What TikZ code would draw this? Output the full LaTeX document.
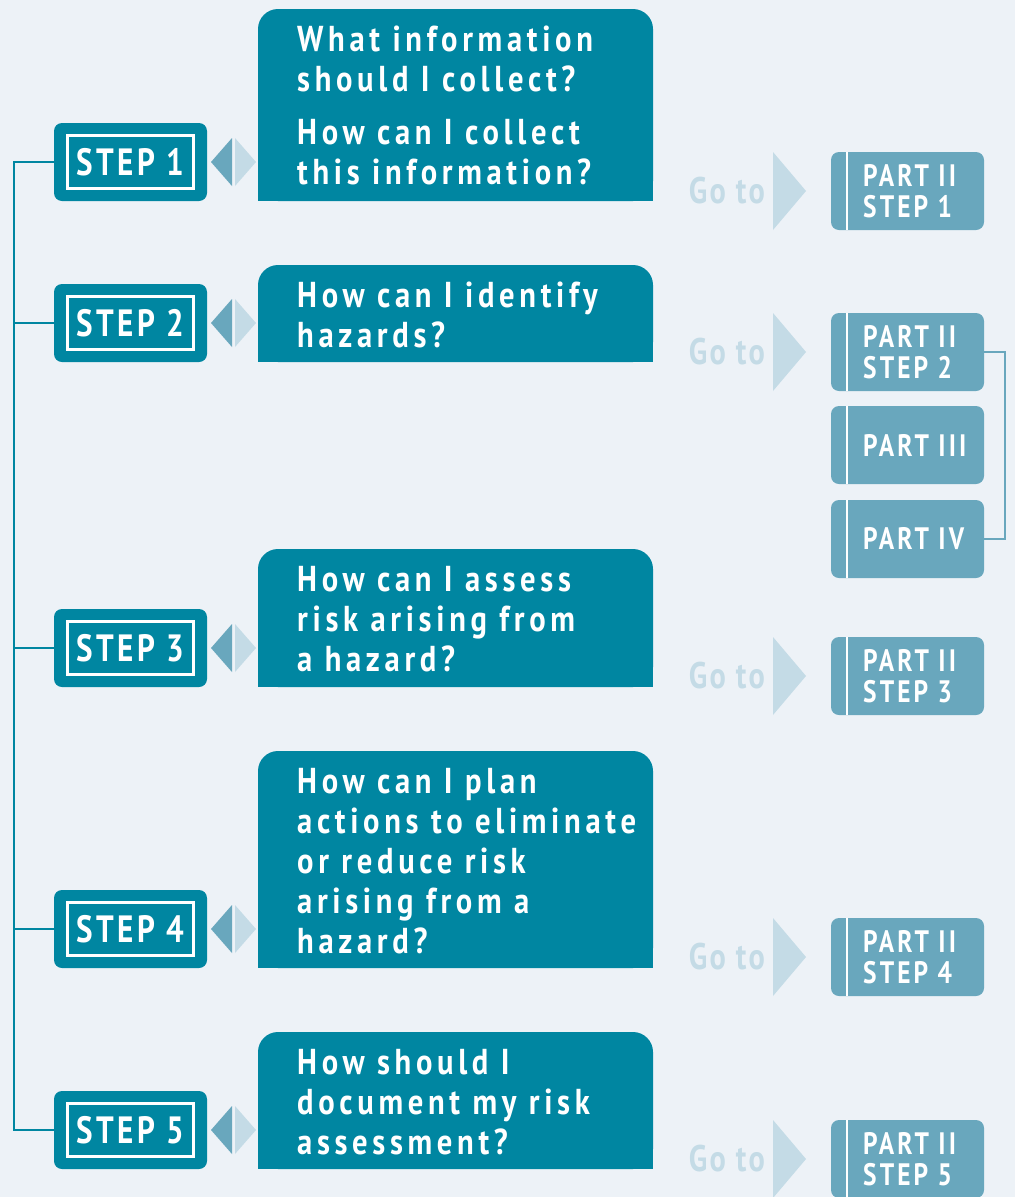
\documentclass[tikz,border=0pt]{standalone}
\usepackage{fontspec}
\setmainfont{PT Sans}
\newfontfamily\cfq[FakeStretch=0.85,LetterSpace=13]{PT Sans}
\newfontfamily\cfs[FakeStretch=0.82,LetterSpace=9]{PT Sans}
\newfontfamily\cfp[FakeStretch=0.82,LetterSpace=10]{PT Sans}
\newfontfamily\cfg[FakeStretch=0.82,LetterSpace=6]{PT Sans}
\usetikzlibrary{calc}
\definecolor{bgc}{HTML}{EDF2F7}
\definecolor{tealc}{HTML}{0086A1}
\definecolor{midc}{HTML}{69A7BD}
\definecolor{palec}{HTML}{C4DBE6}
\tikzset{
  stepbox/.style={fill=tealc, rounded corners=8pt, minimum width=153pt, minimum height=78pt, inner sep=0pt},
  steplab/.style={draw=white, line width=2.5pt, minimum width=126pt, minimum height=53pt, inner sep=0pt, text=white, font=\cfs\bfseries\fontsize{38}{38}\selectfont},
  qtext/.style={anchor=north west, inner sep=0pt, align=left, text=white, font=\cfq\bfseries\fontsize{36}{40}\selectfont},
  partbox/.style={fill=midc, rounded corners=8pt, minimum width=153pt, minimum height=78pt, inner sep=0pt},
  parttext/.style={anchor=west, inner sep=0pt, align=left, text=white, font=\cfp\bfseries\fontsize{31}{31}\selectfont},
  gotext/.style={anchor=east, inner sep=0pt, text=palec, font=\cfg\bfseries\fontsize{37}{37}\selectfont},
  spine/.style={draw=tealc, line width=2pt},
  bracket/.style={draw=midc, line width=2pt},
}
\begin{document}
\begin{tikzpicture}[x=1pt,y=-1pt]
\fill[bgc] (0,0) rectangle (1015,1197);
\useasboundingbox (0,0) rectangle (1015,1197);

% question boxes
\foreach \t/\b in {9/201,265/362,549/687,751/968,1032/1169}{
  \fill[tealc, rounded corners=20pt] (258,\t) rectangle (653,\b);
  \fill[tealc] (258,\t+30) rectangle (653,\b);
}
% diamonds
\foreach \c in {162,323,648,929,1130}{
  \fill[midc] (211,\c) -- (232,\c-24) -- (232,\c+24) -- cycle;
  \fill[palec] (235,\c-24) -- (256,\c) -- (235,\c+24) -- cycle;
}

\node[qtext] (q1) at (297,26) {What information\\should I collect?\\[13pt]How can I collect\\this information?};
\node[qtext] (q2) at (297,282) {How can I identify\\hazards?};
\node[qtext] (q3) at (297,566) {How can I assess\\risk arising from\\a hazard?};
\node[qtext] (q4) at (297,768) {How can I plan\\actions to eliminate\\or reduce risk\\arising from a\\hazard?};
\node[qtext] (q5) at (297,1049) {How should I\\document my risk\\assessment?};

% step boxes
\foreach \n/\c in {1/162,2/323,3/648,4/929,5/1130}{
  \node[stepbox] (s\n) at (130.5,\c) {};
  \node[steplab] (l\n) at (s\n.center) {STEP \n};
}
\coordinate (top) at ($(s1.west)+(-40,0)$);
\coordinate (bot) at ($(s5.west)+(-40,0)$);
\draw[spine] (s1.west) -- (top) -- (bot) -- (s5.west);
\foreach \n in {2,3,4}{
  \draw[spine] (s\n.west) -- ($(s\n.west)+(-40,0)$);
}

% go to + part boxes
\foreach \n/\c/\txt in {1/191/{PART II\\STEP 1},2/352/{PART II\\STEP 2},3/676/{PART II\\STEP 3},4/957/{PART II\\STEP 4},5/1159/{PART II\\STEP 5}}{
  \node[gotext] (g\n) at (765,\c) {Go to};
  \fill[palec] (773,\c-39) -- (806,\c) -- (773,\c+39) -- cycle;
  \node[partbox] (p\n) at (907.5,\c) {};
  \draw[white, line width=2.5pt] ($(p\n.north west)+(16,0)$) -- ($(p\n.south west)+(16,0)$);
  \node[parttext] (t\n) at (863,\c) {\txt};
}
\node[partbox] (p6) at (907.5,445) {};
\draw[white, line width=2.5pt] ($(p6.north west)+(16,0)$) -- ($(p6.south west)+(16,0)$);
\node[parttext] (t6) at (863,445) {PART III};
\node[partbox] (p7) at (907.5,539) {};
\draw[white, line width=2.5pt] ($(p7.north west)+(16,0)$) -- ($(p7.south west)+(16,0)$);
\node[parttext] (t7) at (863,539) {PART IV};

\draw[bracket] (p2.east) -- ++(21,0) |- (p7.east);
\end{tikzpicture}
\end{document}
